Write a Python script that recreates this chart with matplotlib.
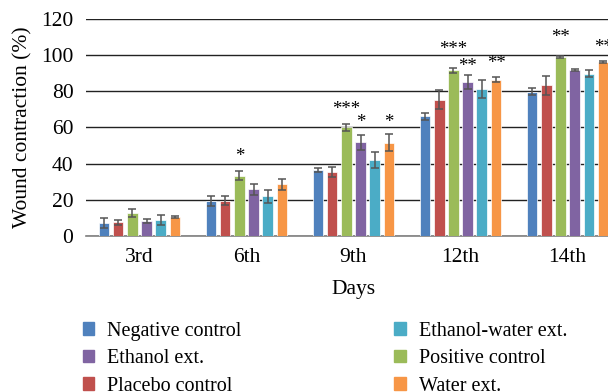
import matplotlib.pyplot as plt
import numpy as np
from matplotlib.patches import Patch

plt.rcParams['font.family'] = ['Liberation Serif', 'DejaVu Serif']

days = ['3rd', '6th', '9th', '12th', '14th']
groups = ['Negative control', 'Placebo control', 'Positive control',
          'Ethanol ext.', 'Ethanol-water ext.', 'Water ext.']
colors = ['#4F81BD', '#C0504D', '#9BBB59', '#8064A2', '#4BACC6', '#F79646']

# mean wound contraction (%) per group, one value per day
negative = [7.2, 19.4, 36.5, 66.2, 79.8]
placebo = [7.5, 19.5, 35.2, 75.4, 83.3]
positive = [12.7, 33.4, 60.1, 91.6, 99.0]
ethanol = [8.3, 25.8, 51.8, 85.2, 91.8]
ethanol_water = [8.8, 21.9, 42.0, 81.1, 89.8]
water = [10.5, 28.6, 51.6, 86.5, 96.2]

negative_err = [2.9, 2.8, 1.1, 2.0, 2.1]
placebo_err = [1.4, 2.5, 2.8, 5.1, 5.4]
positive_err = [2.1, 2.3, 1.8, 1.4, 0.6]
ethanol_err = [1.0, 3.2, 4.0, 4.0, 0.7]
ethanol_water_err = [3.0, 3.8, 4.3, 5.0, 2.0]
water_err = [0.7, 3.1, 4.7, 1.5, 0.6]

# significance marks: group index, day index, label and the height it sits at
star_group = [2, 2, 3, 5, 2, 3, 5, 2, 5]
star_day = [1, 2, 2, 2, 3, 3, 3, 4, 4]
star_text = ['*', '***', '*', '*', '***', '**', '**', '**', '**']
star_y = [45.9, 71.9, 64.7, 64.7, 105.1, 95.7, 97.3, 111.7, 106.2]

means = [negative, placebo, positive, ethanol, ethanol_water, water]
errs = [negative_err, placebo_err, positive_err, ethanol_err,
        ethanol_water_err, water_err]

fig = plt.figure(figsize=(6.08, 3.92), dpi=100)
ax = fig.add_axes([0.1414, 0.398, 0.88, 0.5536])

x = np.arange(len(days))
step = 0.133
width = 0.1
for i, (m, e, c) in enumerate(zip(means, errs, colors)):
    pos = x + (i - 2.5) * step
    ax.bar(pos, m, width, color=c, edgecolor='white', linewidth=0.5, zorder=3)
    ax.errorbar(pos, m, yerr=e, fmt='none', ecolor='#555555',
                elinewidth=1.1, capsize=3.2, capthick=1.1, zorder=4)

# the asterisk glyph sits high, so shift the baseline down to centre it
for gi, di, s, y in zip(star_group, star_day, star_text, star_y):
    ax.annotate(s, (x[di] + (gi - 2.5) * step, y), xytext=(0, -6),
                textcoords='offset points', ha='center', va='baseline',
                fontsize=13.5, annotation_clip=False)

ax.set_xlim(-0.5, len(days) - 0.5)
ax.set_ylim(0, 120)
ax.set_yticks(np.arange(0, 121, 20))
ax.set_xticks(x)
ax.set_xticklabels(days)
ax.tick_params(axis='y', labelsize=15.5, length=0, pad=9)
ax.tick_params(axis='x', labelsize=15.5, length=0, pad=9)
ax.grid(axis='y', color='#222222', linewidth=1, zorder=0)
for side in ['left', 'right', 'top']:
    ax.spines[side].set_visible(False)
ax.spines['bottom'].set_color('#808080')
ax.spines['bottom'].set_linewidth(1.2)
ax.set_xlabel('Days', fontsize=15.5, labelpad=9)
ax.set_ylabel('Wound contraction (%)', fontsize=15.5, labelpad=6)

order = [0, 3, 1, 4, 2, 5]
handles = [Patch(color=colors[i], label=groups[i]) for i in order]
fig.legend(handles=handles, ncol=2, loc='upper left',
           bbox_to_anchor=(0.123, 0.2), frameon=False, fontsize=14.5,
           handlelength=0.55, handleheight=0.55, handletextpad=0.65,
           columnspacing=7.6, labelspacing=0.42, borderaxespad=0)

fig.savefig('out.png', dpi=100)
